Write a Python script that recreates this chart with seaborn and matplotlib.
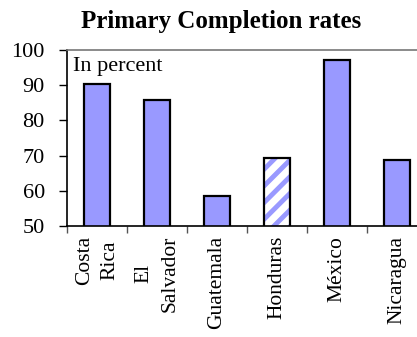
import matplotlib
matplotlib.use("Agg")
import matplotlib.pyplot as plt
import seaborn as sns
import pandas as pd
from matplotlib.patches import Rectangle

countries = ["Costa\nRica", "El\nSalvador", "Guatemala", "Honduras", "México", "Nicaragua"]
rates = [90.4, 85.8, 58.6, 69.4, 97.2, 68.8]
hatched = "Honduras"

bar_color = "#9999FF"

sns.set_style("white")
plt.rcParams["font.family"] = ["Liberation Serif", "DejaVu Serif"]
plt.rcParams["hatch.linewidth"] = 3.5
plt.rcParams["text.color"] = "black"
plt.rcParams["xtick.color"] = "black"
plt.rcParams["ytick.color"] = "black"

df = pd.DataFrame({"country": countries, "rate": rates})

fig = plt.figure(figsize=(4.17, 3.37), dpi=100)
ax = fig.add_axes([0.1607, 0.3294, 0.8633, 0.5223])

sns.barplot(data=df, x="country", y="rate", color=bar_color, saturation=1,
            width=0.42, edgecolor="black", linewidth=1.6, ax=ax)

# Honduras bar: white with blue stripes, black outline on top
for name, p in zip(countries, ax.patches):
    if name == hatched:
        p.set_facecolor("white")
        p.set_edgecolor(bar_color)
        p.set_hatch("//")
        p.set_linewidth(0)
        ax.add_patch(Rectangle(p.get_xy(), p.get_width(), p.get_height(),
                               fill=False, edgecolor="black", linewidth=1.6, zorder=3))

ax.set_ylim(50, 100)
ax.set_xlim(-0.5, len(countries) - 0.5)
ax.set_yticks([50, 60, 70, 80, 90, 100])
ax.set_xticks([i - 0.5 for i in range(len(countries))], minor=False)
ax.set_xticklabels([])
ax.set_xticks(range(len(countries)), minor=True)
ax.set_xticklabels(countries, minor=True, rotation=90, ha="center", va="top",
                   multialignment="center", fontsize=15.5, linespacing=1.45)
ax.tick_params(axis="x", which="minor", length=0, pad=7)
ax.tick_params(axis="x", which="major", direction="out", length=5, width=1, color="#555555")
ax.tick_params(axis="y", direction="out", length=6, width=1, labelsize=16, pad=10)
ax.tick_params(left=True, bottom=True)
ax.set_xlabel("")
ax.set_ylabel("")

for side in ["left", "bottom"]:
    ax.spines[side].set_color("black")
    ax.spines[side].set_linewidth(1.2)
ax.spines["top"].set_color("#777777")
ax.spines["top"].set_linewidth(1.2)
ax.spines["right"].set_visible(False)

ax.text(0.018, 0.96, "In percent", transform=ax.transAxes, fontsize=16,
        ha="left", va="top")

fig.text(0.53, 0.935, "Primary Completion rates", fontsize=18, fontweight="bold",
         ha="center", va="center")

fig.savefig("out.png", dpi=100)
